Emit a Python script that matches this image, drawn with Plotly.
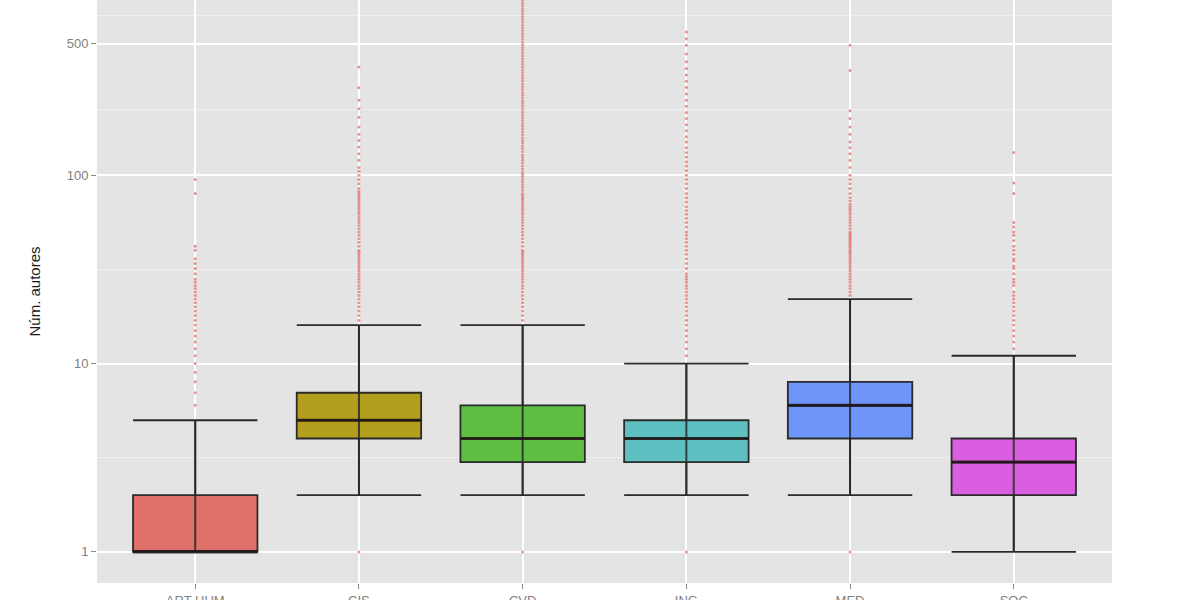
import plotly.graph_objects as go

# categories (x tick labels are cut off at the bottom edge of the picture)
areas = ["ART HUM", "CIS", "CVD", "ING", "MED", "SOC"]

# box statistics
lower = [1, 2, 2, 2, 2, 1]
q1 = [1, 4, 3, 3, 4, 2]
median = [1, 5, 4, 4, 6, 3]
q3 = [2, 7, 6, 5, 8, 4]
upper = [5, 16, 16, 10, 22, 11]

fills = ["#E0716A", "#B49E1E", "#5EBE42", "#5FC0C2", "#6E96FA", "#DA5FE0"]

# outliers per area
out_art = [6, 7, 8, 9, 10, 11, 12, 13, 14, 15, 16, 17, 18, 19, 20, 21, 22, 23, 24,
           25, 26, 27, 28, 30, 32, 34, 36, 40, 42, 80, 95]
out_cis = [1, 17, 18, 19, 20, 21, 22, 23, 24, 25, 26, 27, 28, 29, 30, 31, 32, 33, 34,
           35, 36, 37, 38, 39, 40, 42, 44, 46, 48, 50, 52, 54, 56, 58, 60, 62, 64,
           66, 68, 70, 72, 74, 76, 78, 80, 82, 85, 90, 95, 100, 105, 110, 120, 130,
           141, 153, 165, 180, 203, 225, 250, 291, 375]
out_cvd = [1, 17, 18, 19, 20, 21, 22, 23, 24, 25, 26, 27, 28, 29, 30, 31, 32, 33, 34,
           35, 36, 37, 38, 39, 40, 42, 44, 46, 48, 50, 52, 54, 56, 58, 60, 62, 64,
           66, 68, 70, 72, 74, 76, 78, 80, 83, 86, 89, 92, 95, 98, 101, 104, 108,
           112, 116, 120, 124, 128, 133, 138, 143, 148, 153, 158, 164, 170, 176,
           182, 188, 195, 202, 209, 216, 224, 232, 240, 248, 257, 266, 275, 285,
           295, 305, 316, 327, 338, 350, 362, 375, 388, 401, 415, 430, 445, 460,
           476, 493, 510, 528, 546, 565, 585, 605, 626, 648, 670, 693, 717, 742,
           768, 795, 822, 850, 880]
out_ing = [1, 11, 12, 13, 14, 15, 16, 17, 18, 19, 20, 21, 22, 23, 24, 25, 26, 27, 28,
           29, 30, 32, 34, 36, 38, 40, 42, 44, 46, 48, 50, 53, 56, 59, 62, 65, 68,
           72, 76, 80, 85, 90, 95, 100, 106, 112, 118, 125, 132, 140, 150, 160,
           172, 185, 200, 215, 232, 250, 270, 292, 315, 340, 368, 400, 440, 490,
           530, 575]
out_med = [1, 23, 24, 25, 26, 27, 28, 29, 30, 31, 32, 33, 34, 35, 36, 37, 38, 39, 40,
           41, 42, 43, 44, 45, 46, 47, 48, 49, 50, 52, 54, 56, 58, 60, 62, 64, 66,
           68, 70, 73, 76, 80, 85, 90, 95, 100, 110, 120, 130, 140, 150, 165, 180,
           200, 220, 360, 490]
out_soc = [12, 13, 14, 15, 16, 17, 18, 19, 20, 21, 22, 23, 24, 26, 27, 28, 30, 32,
           33, 35, 36, 38, 40, 42, 45, 48, 50, 53, 56, 80, 91, 132]

outliers = [out_art, out_cis, out_cvd, out_ing, out_med, out_soc]

BOX_W = 0.76
xs = list(range(len(areas)))

fig = go.Figure()

for i, name in enumerate(areas):
    fig.add_trace(go.Box(
        x=[i], q1=[q1[i]], median=[median[i]], q3=[q3[i]],
        lowerfence=[lower[i]], upperfence=[upper[i]],
        width=BOX_W, whiskerwidth=1, boxpoints=False,
        fillcolor=fills[i], line={"color": "#2B2B2B", "width": 1.8},
        name=name, showlegend=False, hoverinfo="skip",
    ))

for i in xs:
    # vertical whisker line seen through the translucent box
    fig.add_trace(go.Scatter(
        x=[i, i], y=[lower[i], upper[i]], mode="lines",
        line={"color": "rgba(40,40,40,0.85)", "width": 2},
        showlegend=False, hoverinfo="skip",
    ))
    # thick median bar
    fig.add_trace(go.Scatter(
        x=[i - BOX_W / 2, i + BOX_W / 2], y=[median[i], median[i]], mode="lines",
        line={"color": "rgba(30,20,20,0.8)", "width": 3.2},
        showlegend=False, hoverinfo="skip",
    ))
    fig.add_trace(go.Scatter(
        x=[i] * len(outliers[i]), y=outliers[i], mode="markers",
        marker={"color": "rgba(222,100,95,0.7)", "size": 3},
        showlegend=False, hoverinfo="skip",
    ))

fig.update_layout(
    width=1200, height=600,
    margin={"l": 97, "r": 88, "t": 0, "b": 17},
    paper_bgcolor="white", plot_bgcolor="#E4E4E4",
    font={"family": "Liberation Sans, Arial, sans-serif", "color": "#7F7F7F", "size": 13},
    showlegend=False,
)
fig.update_xaxes(
    range=[-0.6, 5.6], tickmode="array", tickvals=xs, ticktext=areas,
    showgrid=True, gridcolor="white", gridwidth=2, zeroline=False,
    ticks="outside", ticklen=5, tickcolor="#8A8A8A", tickwidth=1,
    tickfont={"size": 13, "color": "#7F7F7F"}, automargin=False,
)
fig.update_yaxes(
    type="log", range=[-0.165, 2.93],
    tickmode="array", tickvals=[1, 10, 100, 500], ticktext=["1", "10", "100", "500"],
    showgrid=True, gridcolor="white", gridwidth=2, zeroline=False,
    ticks="outside", ticklen=5, tickcolor="#8A8A8A", tickwidth=1,
    tickfont={"size": 13, "color": "#7F7F7F"},
    minor={"tickvals": [3.162, 31.62, 223.6, 707.1], "showgrid": True,
           "gridcolor": "#EFEFEF", "gridwidth": 1, "ticks": ""},
    title={"text": "Núm. autores", "font": {"size": 15, "color": "#1A1A1A"}, "standoff": 22},
    automargin=False,
)

# drop the page's default body margin so the figure sits at the window corner
fig.write_html("out.html", config={"displayModeBar": False},
               post_script="document.body.style.margin='0';")
